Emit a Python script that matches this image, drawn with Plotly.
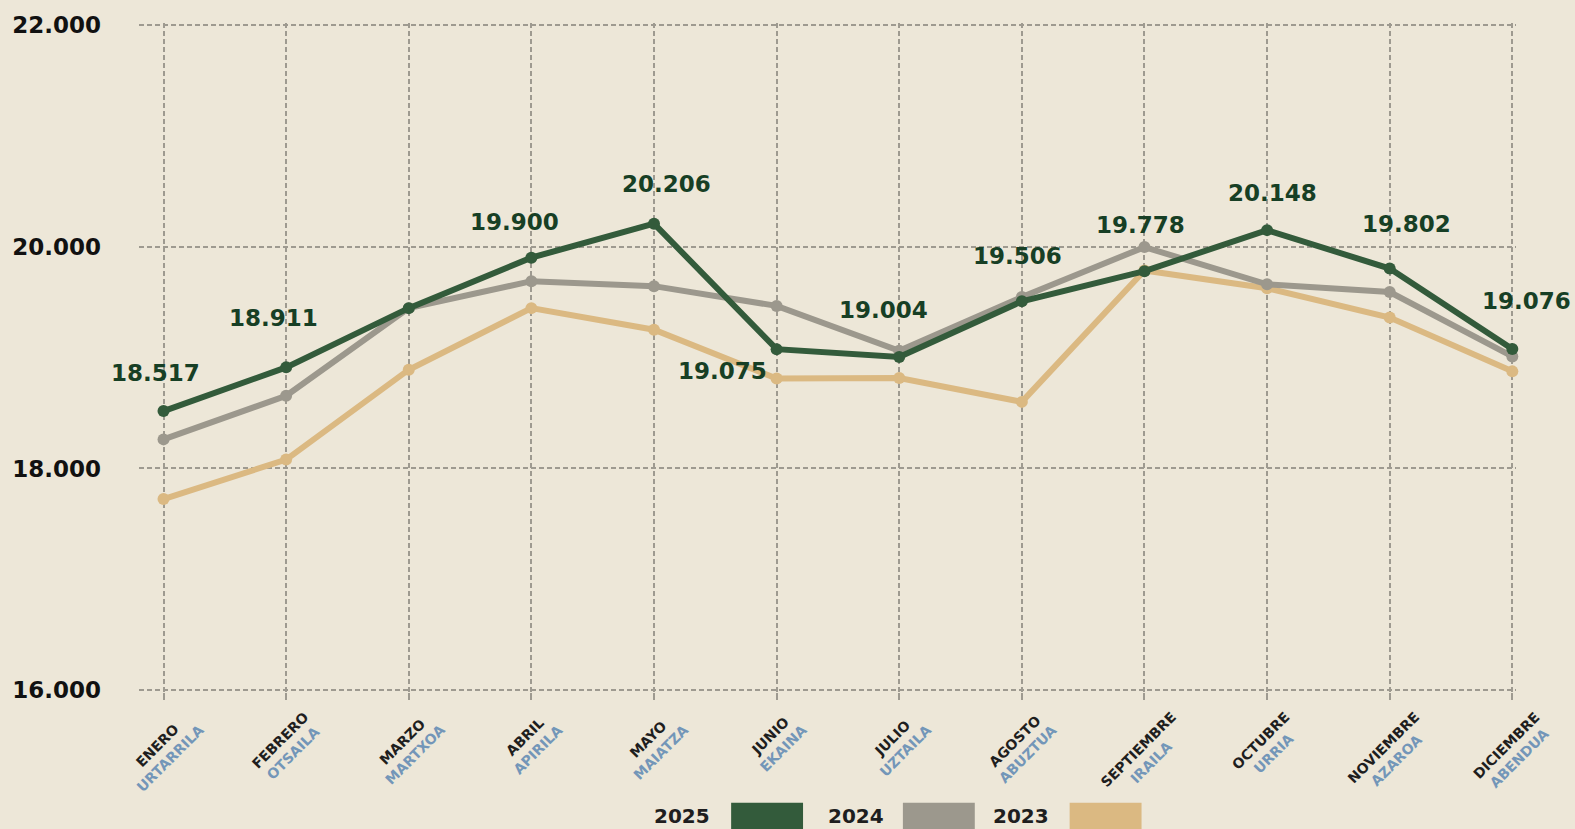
import plotly.graph_objects as go

# data
meses_es = ["ENERO", "FEBRERO", "MARZO", "ABRIL", "MAYO", "JUNIO", "JULIO",
            "AGOSTO", "SEPTIEMBRE", "OCTUBRE", "NOVIEMBRE", "DICIEMBRE"]
meses_eu = ["URTARRILA", "OTSAILA", "MARTXOA", "APIRILA", "MAIATZA", "EKAINA", "UZTAILA",
            "ABUZTUA", "IRAILA", "URRIA", "AZAROA", "ABENDUA"]
v2025 = [18517, 18911, 19445, 19900, 20206, 19075, 19004, 19506, 19778, 20148, 19802, 19076]
v2024 = [18262, 18655, 19445, 19688, 19643, 19465, 19060, 19545, 19995, 19660, 19590, 19010]
v2023 = [17724, 18080, 18890, 19445, 19250, 18810, 18815, 18600, 19785, 19625, 19360, 18875]
labels_2025 = ["18.517", "18.911", "", "19.900", "20.206", "19.075", "19.004",
               "19.506", "19.778", "20.148", "19.802", "19.076"]
series_names = ["2025", "2024", "2023"]

# style
BG = "#EDE7D8"
GREEN = "#335B3B"
GREY = "#9C988D"
TAN = "#DBB982"
LABEL_GREEN = "#173F25"
BLUE = "#7396B8"
FONT = "DejaVu Sans"
GRID = "#9E9A90"

# label offsets (px) for the 2025 value labels
label_shift = [(-8, 38), (-13, 49), (0, 40), (-17, 36), (12, 40), (-54, -22), (-16, 47),
               (-4, 45), (-4, 46), (5, 37), (17, 45), (14, 48)]

# ranges padded a little so plotly keeps the edge gridlines
XR = [-0.2, 11.03]
YR = [15985, 22015]
L, R, T, B = 137, 59, 21, 137
W, H = 1575, 829
pw, ph = W - L - R, H - T - B


def px(xp, yp):
    return (xp - L) / pw, (H - B - yp) / ph


fig = go.Figure()
x = list(range(len(meses_es)))
for vals, col in [(v2023, TAN), (v2024, GREY), (v2025, GREEN)]:
    fig.add_trace(go.Scatter(
        x=x, y=vals, mode="lines+markers",
        line=dict(color=col, width=6),
        marker=dict(color=col, size=12),
        cliponaxis=False, showlegend=False, hoverinfo="skip",
    ))

for i, (val, txt) in enumerate(zip(v2025, labels_2025)):
    if not txt:
        continue
    dx, dy = label_shift[i]
    fig.add_annotation(x=i, y=val, text=txt, showarrow=False,
                       xshift=dx, yshift=dy,
                       font=dict(family=FONT, size=23, color=LABEL_GREEN, weight="bold"))

# month labels below the axis
yl = px(0, 706)[1]
for i, (es, eu) in enumerate(zip(meses_es, meses_eu)):
    fig.add_annotation(x=i, xref="x", y=yl, yref="paper",
                       text=f"{es}<br><span style='color:{BLUE}'>{eu}</span>",
                       showarrow=False, textangle=-45, xanchor="center", yanchor="top",
                       align="center",
                       font=dict(family=FONT, size=14, color="#1E1E1E", weight="bold"))

# legend built from text + boxes
legend_pos = [(711, 730), (885, 902), (1050, 1069)]
legend_cols = [GREEN, GREY, TAN]
for name, (tx, bx), col in zip(series_names, legend_pos, legend_cols):
    ax_, ay_ = px(tx, 816)
    fig.add_annotation(x=ax_, y=ay_, xref="paper", yref="paper", text=name,
                       showarrow=False, xanchor="right", yanchor="middle",
                       font=dict(family=FONT, size=20, color="#1E1E1E", weight="bold"))
    x0, y0 = px(bx, 803)
    x1, y1 = px(bx + 72, 836)
    fig.add_shape(type="rect", xref="paper", yref="paper", x0=x0, x1=x1, y0=y1, y1=y0,
                  fillcolor=col, line=dict(width=0), layer="above")

fig.update_layout(
    width=W, height=H,
    margin=dict(l=L, r=R, t=T, b=B),
    paper_bgcolor=BG, plot_bgcolor=BG,
    separators=",.",
    showlegend=False,
    xaxis=dict(range=XR, tickvals=x, showticklabels=False,
               showgrid=True, gridcolor=GRID, gridwidth=1.5, griddash="5px,3px",
               zeroline=False, showline=False,
               ticks="outside", ticklen=7, tickwidth=1.5, tickcolor=GRID),
    yaxis=dict(range=YR, tickvals=[16000, 18000, 20000, 22000], tickformat=",d",
               showgrid=True, gridcolor=GRID, gridwidth=1.5, griddash="5px,3px",
               zeroline=False, showline=False, ticklabelstandoff=37,
               tickfont=dict(family=FONT, size=23, color="#111111", weight="bold")),
)

fig.write_html("out.html", config={"displayModeBar": False},
               post_script="document.body.style.margin='0';"
                           "document.body.style.background='" + BG + "';")
